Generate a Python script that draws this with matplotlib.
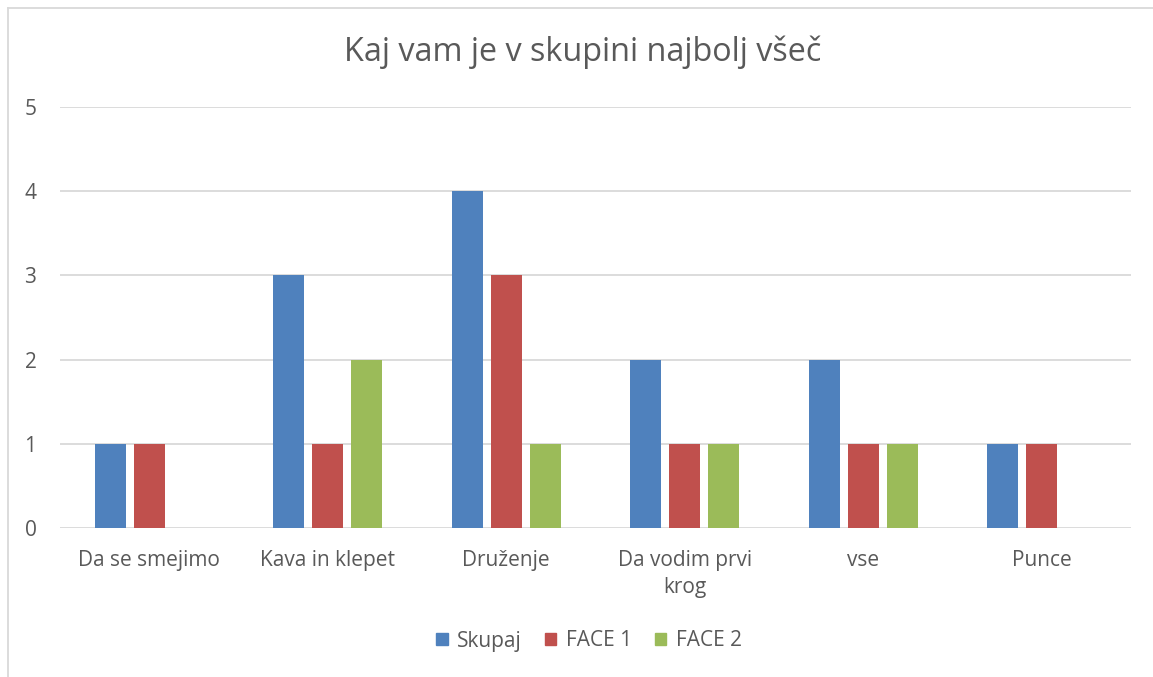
import numpy as np
import matplotlib.pyplot as plt
from matplotlib.lines import Line2D

categories = ['Da se smejimo', 'Kava in klepet', 'Druženje', 'Da vodim prvi\nkrog', 'vse', 'Punce']
skupaj = [1, 3, 4, 2, 2, 1]
face1 = [1, 1, 3, 1, 1, 1]
face2 = [0, 2, 1, 1, 1, 0]
series = ['Skupaj', 'FACE 1', 'FACE 2']
colors = ['#4f81bd', '#c0504d', '#9bbb59']

plt.rcParams['font.family'] = ['Open Sans', 'DejaVu Sans']
txt = '#595959'

W, H = 1153, 677
fig = plt.figure(figsize=(W / 100, H / 100), dpi=100)
ax = fig.add_axes([60 / W, 1 - 528 / H, (1131 - 60) / W, (528 - 107) / H])

x = np.arange(len(categories))
bw = 0.172
step = 0.218
for i, (vals, name, c) in enumerate(zip([skupaj, face1, face2], series, colors)):
    v = np.array(vals, dtype=float)
    m = v > 0
    ax.bar(x[m] + (i - 1) * step, v[m], width=bw, color=c, label=name, zorder=3)

ax.set_xlim(-0.5, len(categories) - 0.5)
ax.set_ylim(0, 5)
ax.set_yticks(range(6))
ax.yaxis.grid(True, color='#d9d9d9', linewidth=1.3, zorder=0)
for s in ax.spines.values():
    s.set_visible(False)
ax.tick_params(axis='both', length=0, labelsize=15, colors=txt)
ax.tick_params(axis='y', pad=17)
ax.tick_params(axis='x', pad=16)
ax.set_xticks(x)
ax.set_xticklabels(categories, linespacing=1.35)
for lab in ax.get_yticklabels():
    lab.set_horizontalalignment('right')

fig.text(583 / W, 1 - 52 / H, 'Kaj vam je v skupini najbolj všeč', ha='center', va='center',
         fontsize=23.3, color=txt)

handles = [plt.Rectangle((0, 0), 1, 1, color=c) for c in colors]
fig.legend(handles, series, loc='center', bbox_to_anchor=(589 / W, 1 - 641 / H), ncol=3,
           frameon=False, fontsize=15, labelcolor=txt, handlelength=0.55, handleheight=0.55,
           handletextpad=0.45, columnspacing=1.1)

fig.add_artist(Line2D([8 / W, 8 / W], [0, 1 - 8 / H], color='#d9d9d9', linewidth=1.3))
fig.add_artist(Line2D([8 / W, 1], [1 - 8 / H, 1 - 8 / H], color='#d9d9d9', linewidth=1.3))

fig.savefig('out.png', dpi=100, facecolor='white')
